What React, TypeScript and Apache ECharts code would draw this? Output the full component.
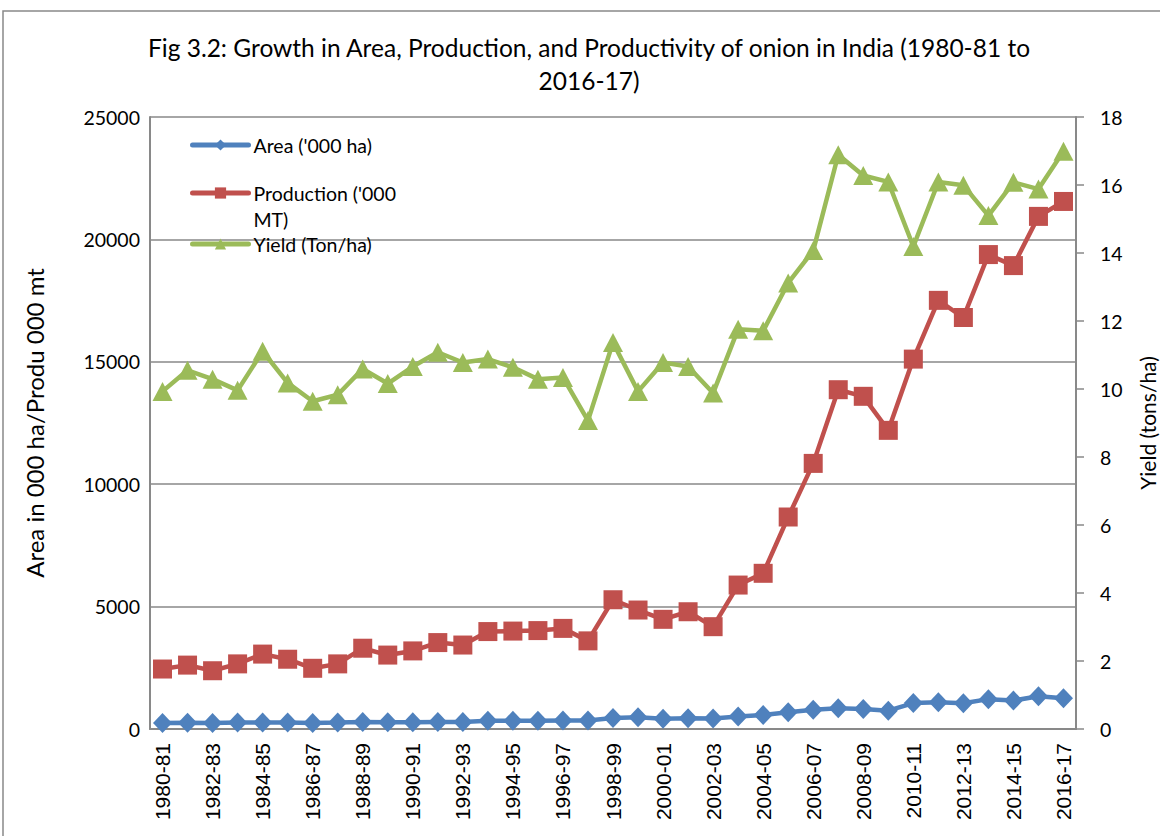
import React, { useEffect, useRef } from "react";
import * as echarts from "echarts";

const years = [
  "1980-81", "1981-82", "1982-83", "1983-84", "1984-85", "1985-86", "1986-87", "1987-88",
  "1988-89", "1989-90", "1990-91", "1991-92", "1992-93", "1993-94", "1994-95", "1995-96",
  "1996-97", "1997-98", "1998-99", "1999-00", "2000-01", "2001-02", "2002-03", "2003-04",
  "2004-05", "2005-06", "2006-07", "2007-08", "2008-09", "2009-10", "2010-11", "2011-12",
  "2012-13", "2013-14", "2014-15", "2015-16", "2016-17",
];

const area = [
  250, 260, 245, 262, 265, 262, 250, 262, 290, 280, 275, 285, 288, 335, 335, 340, 345, 350,
  450, 480, 420, 440, 425, 510, 570, 680, 790, 850, 820, 750, 1060, 1090, 1050, 1220, 1160,
  1340, 1260,
];

const production = [
  2450, 2610, 2380, 2660, 3060, 2850, 2480, 2660, 3300, 3020, 3190, 3530, 3430, 3980, 4000,
  4020, 4110, 3600, 5280, 4860, 4480, 4790, 4180, 5880, 6360, 8660, 10850, 13860, 13590,
  12200, 15110, 17510, 16810, 19380, 18930, 20940, 21550,
];

const yieldValues = [
  9.93, 10.55, 10.29, 9.96, 11.11, 10.18, 9.64, 9.83, 10.59, 10.16, 10.66, 11.08, 10.78,
  10.88, 10.64, 10.29, 10.34, 9.07, 11.37, 9.93, 10.78, 10.66, 9.88, 11.76, 11.71, 13.12,
  14.07, 16.89, 16.28, 16.09, 14.19, 16.09, 15.99, 15.1, 16.08, 15.88, 16.99,
];

const seriesNames = ["Area ('000 ha)", "Production ('000 MT)", "Yield (Ton/ha)"];
const titleText = "Fig 3.2: Growth in Area, Production, and Productivity of onion in India (1980-81 to\n2016-17)";
const leftAxisName = "Area in 000 ha/Produ 000 mt";
const rightAxisName = "Yield (tons/ha)";

const AXIS_COLOR = "#898989";
const FONT = "Lato";

export default function App() {
  const ref = useRef<HTMLDivElement>(null);

  useEffect(() => {
    if (!ref.current) return;
    const chart = echarts.init(ref.current, undefined, { renderer: "svg" });
    const legendText = { color: "#000", fontSize: 19.5, fontFamily: FONT, lineHeight: 22 };
    const legendCommon = {
      left: 190,
      padding: 0,
      itemWidth: 56,
      itemHeight: 14,
      lineStyle: { width: 5, cap: "round" },
    };
    const option: any = {
      animation: false,
      backgroundColor: "#fff",
      title: {
        text: titleText,
        left: 584,
        top: 26,
        textAlign: "center",
        textStyle: { fontFamily: FONT, fontSize: 24.5, fontWeight: "normal", color: "#000", lineHeight: 33 },
      },
      graphic: [
        {
          type: "rect",
          shape: { x: 3, y: 11, width: 1400, height: 1000 },
          style: { fill: "none", stroke: AXIS_COLOR, lineWidth: 1.5 },
          silent: true,
          z: -10,
        },
      ],
      legend: [
        {
          ...legendCommon,
          data: [seriesNames[0]],
          top: 134,
          textStyle: legendText,
        },
        {
          ...legendCommon,
          data: [seriesNames[1]],
          top: 154,
          formatter: () => "\nProduction ('000\nMT)",
          textStyle: { ...legendText, lineHeight: 26 },
        },
        {
          ...legendCommon,
          data: [seriesNames[2]],
          top: 233,
          textStyle: legendText,
        },
      ],
      grid: { left: 150, right: 84, top: 117, bottom: 107, containLabel: false, outerBoundsMode: "none" },
      xAxis: {
        type: "category",
        data: years,
        boundaryGap: true,
        axisLine: { show: true, lineStyle: { color: AXIS_COLOR, width: 2 } },
        axisTick: { show: false },
        axisLabel: {
          rotate: 90,
          interval: 1,
          margin: 14,
          fontSize: 21,
          fontFamily: "Liberation Sans",
          color: "#000",
        },
      },
      yAxis: [
        {
          type: "value",
          min: 0,
          max: 25000,
          interval: 5000,
          name: leftAxisName,
          nameLocation: "middle",
          nameRotate: 90,
          nameGap: 104,
          nameTextStyle: { fontFamily: FONT, fontSize: 24, color: "#000" },
          axisLine: { show: true, lineStyle: { color: AXIS_COLOR, width: 2 } },
          axisTick: { show: false },
          axisLabel: {
            margin: 10,
            fontSize: 19.5,
            fontFamily: FONT,
            color: "#000",
            formatter: (v: number) => String(v),
          },
          splitLine: { show: true, lineStyle: { color: AXIS_COLOR, width: 1.5 } },
        },
        {
          type: "value",
          min: 0,
          max: 18,
          interval: 2,
          position: "right",
          name: rightAxisName,
          nameLocation: "middle",
          nameRotate: 90,
          nameGap: 61,
          nameTextStyle: { fontFamily: FONT, fontSize: 21, color: "#000" },
          axisLine: { show: true, lineStyle: { color: AXIS_COLOR, width: 2 } },
          axisTick: { show: true, inside: false, length: 8, lineStyle: { color: AXIS_COLOR, width: 1.5 } },
          axisLabel: { margin: 24, fontSize: 19.5, fontFamily: FONT, color: "#000" },
          splitLine: { show: false },
        },
      ],
      series: [
        {
          name: seriesNames[0],
          type: "line",
          yAxisIndex: 0,
          data: area,
          symbol: "diamond",
          symbolSize: [19, 20],
          showAllSymbol: true,
          color: "#4F81BD",
          itemStyle: { color: "#4F81BD" },
          lineStyle: { width: 4.5, color: "#4F81BD", cap: "round" },
        },
        {
          name: seriesNames[1],
          type: "line",
          yAxisIndex: 0,
          data: production,
          symbol: "rect",
          symbolSize: 19,
          showAllSymbol: true,
          color: "#C0504D",
          itemStyle: { color: "#C0504D" },
          lineStyle: { width: 4.5, color: "#C0504D", cap: "round" },
        },
        {
          name: seriesNames[2],
          type: "line",
          yAxisIndex: 1,
          data: yieldValues,
          symbol: "triangle",
          symbolSize: [20, 19],
          showAllSymbol: true,
          color: "#9BBB59",
          itemStyle: { color: "#9BBB59" },
          lineStyle: { width: 4.5, color: "#9BBB59", cap: "round" },
        },
      ],
    };
    chart.setOption(option);
    return () => chart.dispose();
  }, []);

  return (
    <div
      ref={ref}
      style={{ position: "absolute", left: 0, top: 0, width: 1160, height: 836 }}
    />
  );
}
